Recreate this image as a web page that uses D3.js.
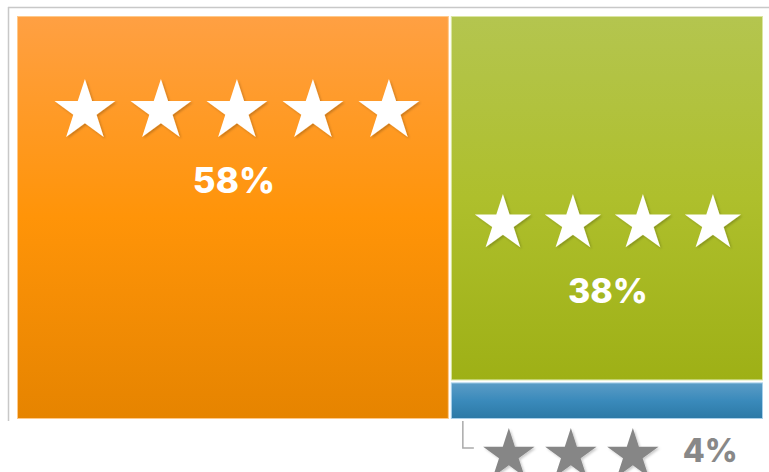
<!DOCTYPE html>
<html>
<head>
<meta charset="utf-8">
<script src="https://cdn.jsdelivr.net/npm/d3@7"></script>
<style>
  html, body { margin: 0; padding: 0; background: #fff; }
  svg { display: block; }
  text { font-family: Inter, "Open Sans", sans-serif; font-weight: 800; }
</style>
</head>
<body>
<div id="chart"></div>
<script>
// ---- Data ----
const ratings = ["5 stars", "4 stars", "3 stars"];
const starCounts = [5, 4, 3];
const shares = [58, 38, 4];

const W = 769, H = 472;
const area = { x: 17, y: 16, w: 746, h: 403 };

// gradient stops per tile (top, middle, bottom)
const palette = [
  { stops: ["#ffa043", "#ff9408", "#e68400"], stroke: "#ffc98a" },
  { stops: ["#b4c54f", "#aebf2c", "#9eb016"], stroke: "#dbe6a2" },
  { stops: ["#5b9cc6", "#3a8abb", "#2c79a6"], stroke: "#a9d0ea" }
];

// label styling per tile: star radius, spacing, offsets from tile top
const labelStyle = [
  { r: 32, gap: 76, starY: 95, textY: 177, size: 35, dx: 4 },
  { r: 29.5, gap: 70, starY: 207.5, textY: 287, size: 34, dx: 1 }
];

const svg = d3.select("#chart").append("svg")
  .attr("width", W).attr("height", H);

const defs = svg.append("defs");
palette.forEach((p, i) => {
  const g = defs.append("linearGradient")
    .attr("id", "grad" + i)
    .attr("x1", 0).attr("y1", 0).attr("x2", 0).attr("y2", 1);
  g.append("stop").attr("offset", "0%").attr("stop-color", p.stops[0]);
  g.append("stop").attr("offset", "50%").attr("stop-color", p.stops[1]);
  g.append("stop").attr("offset", "100%").attr("stop-color", p.stops[2]);
});
const shadow = defs.append("filter").attr("id", "shadow")
  .attr("x", "-20%").attr("y", "-20%").attr("width", "140%").attr("height", "140%");
shadow.append("feDropShadow")
  .attr("dx", 1.5).attr("dy", 1.5).attr("stdDeviation", 0.8)
  .attr("flood-color", "#000").attr("flood-opacity", 0.22);

// frame lines
svg.append("line").attr("x1", 8).attr("x2", W).attr("y1", 7.5).attr("y2", 7.5)
  .attr("stroke", "#c8c8c8").attr("stroke-width", 1.5);
svg.append("line").attr("x1", 8.5).attr("x2", 8.5).attr("y1", 7).attr("y2", 421)
  .attr("stroke", "#c8c8c8").attr("stroke-width", 1.5);

// ---- Treemap ----
const root = d3.hierarchy({ children: ratings.map((r, i) => ({ i, value: shares[i] })) })
  .sum(d => d.value || 0);

d3.treemap()
  .tile(d3.treemapBinary)
  .size([area.w, area.h])
  .paddingInner(2)(root);

const g = svg.append("g").attr("transform", `translate(${area.x},${area.y})`);

const leaves = root.leaves();

g.selectAll("rect.tile")
  .data(leaves)
  .join("rect")
  .attr("class", "tile")
  .attr("x", d => d.x0 + 0.5)
  .attr("y", d => d.y0 + 0.5)
  .attr("width", d => d.x1 - d.x0 - 1)
  .attr("height", d => d.y1 - d.y0 - 1)
  .attr("fill", d => `url(#grad${d.data.i})`)
  .attr("stroke", d => palette[d.data.i].stroke)
  .attr("stroke-width", 1);

function starPath(cx, cy, R) {
  const r = R * 0.382;
  const pts = d3.range(10).map(k => {
    const a = -Math.PI / 2 + k * Math.PI / 5;
    const rad = k % 2 ? r : R;
    return [cx + rad * Math.cos(a), cy + rad * Math.sin(a)];
  });
  return "M" + pts.map(p => p.join(",")).join("L") + "Z";
}

function drawStars(sel, n, cx, cy, R, gap, fill) {
  d3.range(n).forEach(k => {
    const x = cx + (k - (n - 1) / 2) * gap;
    sel.append("path")
      .attr("d", starPath(x, cy, R))
      .attr("fill", fill)
      .attr("filter", "url(#shadow)");
  });
}

// labels inside big tiles
leaves.forEach(d => {
  const i = d.data.i;
  const st = labelStyle[i];
  if (!st) return;
  const cx = (d.x0 + d.x1) / 2 + st.dx;
  const lg = g.append("g");
  drawStars(lg, starCounts[i], cx, d.y0 + st.starY, st.r, st.gap, "#fff");
  lg.append("text")
    .attr("x", (d.x0 + d.x1) / 2 + 1)
    .attr("y", d.y0 + st.textY)
    .attr("text-anchor", "middle")
    .attr("fill", "#fff")
    .style("font-size", st.size + "px")
    .text(shares[i] + "%");
});

// small tile: label outside with connector
const small = leaves.find(d => d.data.i === 2);
const lx = small.x0 + 12;
const ly = small.y1 + 2;
g.append("path")
  .attr("d", `M${lx},${ly}V${ly + 27}H${lx + 11}`)
  .attr("fill", "none")
  .attr("stroke", "#aaa")
  .attr("stroke-width", 1.5);
const og = g.append("g");
drawStars(og, starCounts[2], lx + 108, ly + 34, 27, 62, "#868686");
og.append("text")
  .attr("x", lx + 220)
  .attr("y", ly + 41)
  .attr("fill", "#888")
  .style("font-size", "32px")
  .text(shares[2] + "%");
</script>
</body>
</html>
